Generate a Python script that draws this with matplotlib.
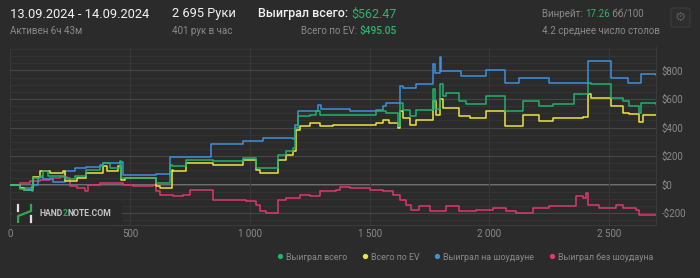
import matplotlib
matplotlib.use("Agg")
from matplotlib import pyplot as plt
from matplotlib.lines import Line2D
from matplotlib.patches import FancyBboxPatch
from matplotlib.ticker import FuncFormatter, MultipleLocator

plt.rcParams['font.family'] = ['Roboto', 'DejaVu Sans']

# values (hand number, dollars)
won_x = [0, 42, 60, 90, 97, 125, 139, 160, 229, 271, 319, 375, 389, 416, 458, 465, 611, 667, 674,
         736, 847, 972, 1028, 1042, 1118, 1153, 1181, 1188, 1201, 1250, 1278, 1292, 1417, 1528, 1570,
         1618, 1625, 1639, 1667, 1695, 1764, 1771, 1792, 1806, 1820, 1875, 1903, 1986, 2063, 2139,
         2208, 2264, 2354, 2410, 2424, 2507, 2556, 2583, 2625, 2632, 2695]
won_y = [0, -30, -40, -10, 47, 58, 98, 60, 40, 60, 105, 129, 152, 118, 164, 47, 12, 140, 129,
         175, 164, 187, 120, 117, 211, 234, 257, 400, 480, 491, 515, 491, 487, 515, 503,
         409, 573, 520, 480, 526, 667, 530, 702, 620, 644, 585, 566, 620, 515, 585,
         550, 566, 632, 714, 702, 608, 585, 550, 505, 573, 562]

ev_x = [0, 42, 60, 90, 97, 125, 167, 221, 229, 278, 319, 389, 403, 451, 465, 479, 611, 625, 674,
        681, 736, 847, 972, 1028, 1042, 1118, 1153, 1181, 1194, 1208, 1250, 1292, 1347, 1528, 1556,
        1583, 1618, 1625, 1639, 1667, 1695, 1764, 1775, 1792, 1806, 1875, 1917, 1986, 2063, 2139,
        2208, 2264, 2389, 2410, 2424, 2507, 2556, 2583, 2625, 2640, 2695]
ev_y = [0, -25, -35, -15, 51, 98, 82, 98, 23, 47, 82, 129, 94, 129, 35, 47, -12, -23, 105,
        94, 152, 140, 176, 105, 82, 176, 211, 234, 386, 410, 433, 410, 421, 433, 456,
        433, 398, 515, 470, 421, 456, 585, 490, 597, 538, 480, 468, 515, 410, 491,
        445, 468, 475, 632, 608, 550, 503, 498, 440, 491, 490]

sd_x = [0, 42, 90, 97, 118, 139, 181, 229, 271, 319, 375, 389, 458, 472, 611, 667, 840, 972,
        1056, 1181, 1188, 1201, 1285, 1299, 1417, 1528, 1556, 1570, 1625, 1639, 1695, 1764, 1771,
        1792, 1799, 1882, 1986, 2063, 2125, 2250, 2410, 2507, 2576, 2632, 2695]
sd_y = [0, -20, -45, -5, 55, 40, 20, 95, 117, 125, 140, 152, 159, 70, 75, 194, 288, 309,
        328, 320, 421, 515, 557, 530, 515, 525, 550, 573, 690, 679, 702, 842, 785,
        894, 796, 760, 805, 714, 749, 714, 866, 749, 714, 772, 765]

nsd_x = [0, 42, 83, 125, 167, 208, 236, 250, 278, 313, 326, 375, 472, 514, 597, 611, 625, 681,
         722, 750, 792, 847, 986, 1028, 1042, 1069, 1118, 1153, 1208, 1250, 1292, 1361, 1375, 1417,
         1500, 1556, 1597, 1625, 1653, 1674, 1708, 1750, 1820, 1875, 1945, 2014, 2070, 2111, 2181,
         2250, 2306, 2361, 2389, 2403, 2410, 2458, 2528, 2556, 2611, 2625, 2695]
nsd_y = [0, 12, 23, 35, 47, 51, 47, -12, -23, -42, 0, 12, 0, -12, 0, -47, -70, -82,
         -70, -35, -40, -105, -117, -140, -187, -199, -105, -94, -70, -80, -47, -40, -19, -23,
         -35, -47, -70, -105, -140, -175, -152, -187, -152, -187, -175, -164, -187, -199, -164,
         -152, -152, -82, -90, -58, -140, -164, -140, -164, -175, -211, -215]

series_names = ['Выиграл всего', 'Всего по EV', 'Выиграл на шоудауне', 'Выиграл без шоудауна']
series_colors = ['#1fb26c', '#ede33c', '#3f8fe0', '#e0386f']

bg = '#2b2b2b'
fig = plt.figure(figsize=(7, 2.78), dpi=100, facecolor=bg)
ax = fig.add_axes([0.0143, 0.191, 0.9229, 0.640], facecolor=bg)

ax.set_xlim(0, 2695)
ax.set_ylim(-281, 964)

ax.yaxis.set_major_locator(MultipleLocator(200))
ax.yaxis.set_minor_locator(MultipleLocator(50))
ax.xaxis.set_major_locator(MultipleLocator(500))
ax.grid(True, which='major', axis='y', color='#464646', lw=0.8)
ax.grid(True, which='minor', axis='y', color='#353535', lw=0.6)
ax.grid(True, which='major', axis='x', color='#383838', lw=0.8)
ax.axhline(0, color='#808080', lw=1.2, zorder=1)

for xs, ys, c in [(nsd_x, nsd_y, series_colors[3]), (sd_x, sd_y, series_colors[2]),
                  (ev_x, ev_y, series_colors[1]), (won_x, won_y, series_colors[0])]:
    ax.plot(xs, ys, drawstyle='steps-post', color=c, lw=1.1, zorder=3)

for s in ['top', 'left']:
    ax.spines[s].set_visible(False)
for s in ['right', 'bottom']:
    ax.spines[s].set_color('#3a3a3a')

ax.yaxis.tick_right()
ax.tick_params(axis='both', which='both', length=0, colors='#8a8a8a', labelsize=7)
ax.tick_params(axis='y', pad=4)
ax.tick_params(axis='x', pad=3)
ax.yaxis.set_major_formatter(FuncFormatter(lambda v, p: ('-$%d' % -v) if v < 0 else '$%d' % v))
ax.xaxis.set_major_formatter(FuncFormatter(
    lambda v, p: ('%d %03d' % (v // 1000, v % 1000)) if v >= 1000 else '%d' % v))

# watermark
ax.add_patch(FancyBboxPatch((0.003, 0.0), 0.17, 0.14, transform=ax.transAxes,
                            boxstyle='round,pad=0,rounding_size=0.01', fc='#292929', ec='none', zorder=2))
ax.plot([0.0125, 0.0125], [0.078, 0.112], transform=ax.transAxes, color='#e0e0e0', lw=1.6, zorder=4)
ax.plot([0.0325, 0.0325], [0.017, 0.05], transform=ax.transAxes, color='#e0e0e0', lw=1.6, zorder=4)
ax.plot([0.0125, 0.0125, 0.0325, 0.0325], [0.017, 0.05, 0.078, 0.112], transform=ax.transAxes,
        color='#2fa84f', lw=1.6, zorder=4)
t1 = ax.text(0.045, 0.064, 'HAND', transform=ax.transAxes, color='#c4c4c4', fontsize=6.2,
             fontweight='bold', va='center', zorder=4)
t2 = ax.annotate('2', xy=(1, 0), xycoords=t1, color='#2fa84f', fontsize=6.2,
                 fontweight='bold', va='bottom', zorder=4)
ax.annotate('NOTE.COM', xy=(1, 0), xycoords=t2, color='#c4c4c4', fontsize=6.2,
            fontweight='bold', va='bottom', zorder=4)

# header
white = '#f2f2f2'
grey = '#8a8a8a'
green = '#2fb36b'
fig.text(10 / 700, 1 - 14 / 278, '13.09.2024 - 14.09.2024', color=white, fontsize=9.3, va='center')
fig.text(10 / 700, 1 - 31 / 278, 'Активен 6ч 43м', color=grey, fontsize=7, va='center')
fig.text(172 / 700, 1 - 14 / 278, '2 695 Руки', color=white, fontsize=9.3, va='center')
fig.text(172 / 700, 1 - 31 / 278, '401 рук в час', color=grey, fontsize=7, va='center')
fig.text(258 / 700, 1 - 14 / 278, 'Выиграл всего:', color=white, fontsize=9,
         fontweight='medium', va='center')
fig.text(397 / 700, 1 - 14 / 278, '$562.47', color=green, fontsize=9, va='center', ha='right')
e2 = fig.text(397 / 700, 1 - 31 / 278, '$495.05', color=green, fontsize=7.3, va='center', ha='right',
              fontweight='medium')
plt.annotate('Всего по EV: ', xy=(0, 0), xycoords=e2, color=grey, fontsize=7, va='bottom',
             ha='right', annotation_clip=False)
w1 = fig.text(542 / 700, 1 - 14 / 278, 'Винрейт: ', color=grey, fontsize=7, va='center')
w2 = plt.annotate('17.26', xy=(1, 0), xycoords=w1, color=green, fontsize=7, va='bottom',
                  annotation_clip=False)
plt.annotate(' бб/100', xy=(1, 0), xycoords=w2, color=grey, fontsize=7, va='bottom',
             annotation_clip=False)
fig.text(542 / 700, 1 - 31 / 278, '4.2 среднее число столов', color=grey, fontsize=7, va='center')

fig.patches.append(FancyBboxPatch((671 / 700, 1 - 27 / 278), 19 / 700, 19 / 278,
                                  boxstyle='round,pad=0,rounding_size=0.005', transform=fig.transFigure,
                                  fc='#2e2e2e', ec='#3c3c3c', lw=0.8))
fig.text(680.5 / 700, 1 - 17.5 / 278, '⚙', color='#5a5a5a', fontsize=9, ha='center', va='center',
         family='DejaVu Sans')

# legend
handles = [Line2D([], [], ls='none', marker='o', markersize=2.8, color=c) for c in series_colors]
fig.legend(handles, series_names, loc='center right', bbox_to_anchor=(653 / 700, 1 - 257 / 278),
           ncol=4, frameon=False, fontsize=6.4, labelcolor=grey, handlelength=0.5, handletextpad=0.4,
           columnspacing=1.75, borderaxespad=0, borderpad=0)

fig.savefig('out.png', dpi=100, facecolor=bg)
